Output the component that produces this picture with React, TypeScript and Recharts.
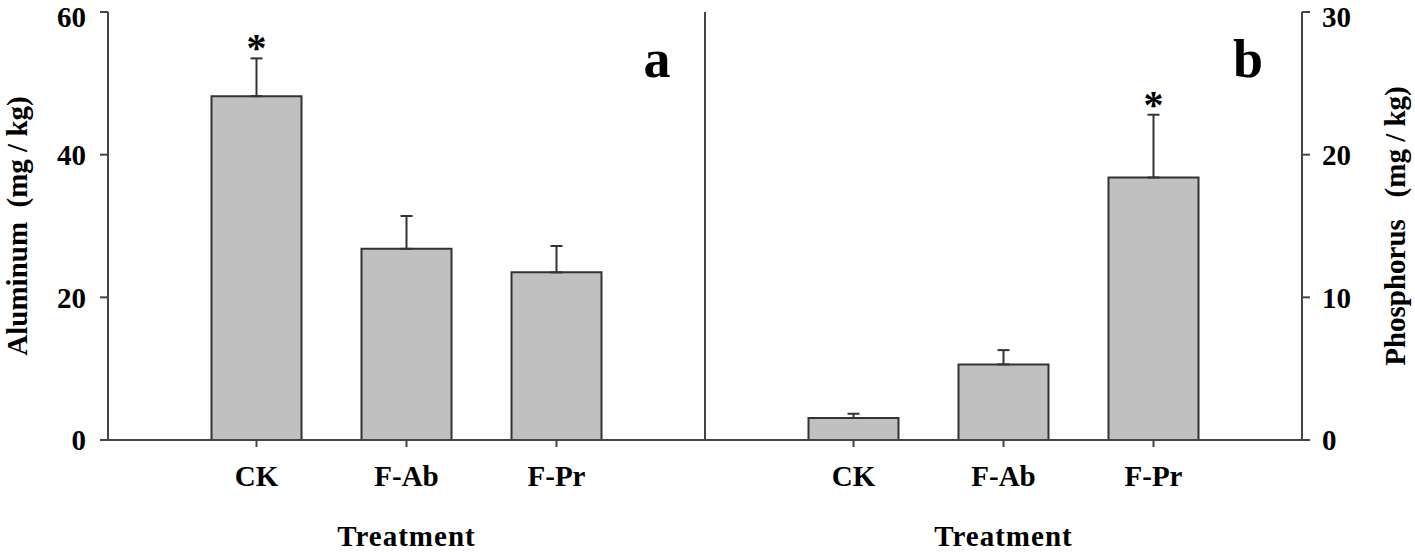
import React from 'react';
import { ComposedChart, Bar, Line, XAxis, YAxis, ErrorBar, LabelList } from 'recharts';

const treatments = ['CK', 'F-Ab', 'F-Pr'];

const aluminum = [48.2, 26.8, 23.5];
const aluminumErr = [5.3, 4.6, 3.7];
const aluminumSig = ['*', '', ''];
const aluminumTicks = [0, 20, 40, 60];

const phosphorus = [1.54, 5.3, 18.4];
const phosphorusErr = [0.3, 1.0, 4.4];
const phosphorusSig = ['', '', '*'];
const phosphorusTicks = [0, 10, 20, 30];

const serif = "'Liberation Serif', 'Times New Roman', serif";
const tickStyle = { fontSize: 29, fontWeight: 700, fontFamily: serif, fill: '#000' };
const labelStyle = { fontSize: 29, fontWeight: 700, fontFamily: serif, fill: '#000', textAnchor: 'middle' as const };
const axisStyle = { stroke: '#444', strokeWidth: 2 };

const build = (vals: number[], errs: number[]) =>
  treatments.map((name, i) => ({
    name,
    value: vals[i],
    err: [0, errs[i]],
    top: vals[i] + errs[i],
  }));

const alData = build(aluminum, aluminumErr);
const pData = build(phosphorus, phosphorusErr);

const star = (sig: string[]) => (props: any) => {
  const { x, y, index } = props;
  if (!sig[index]) return null;
  return (
    <text x={x} y={y + 3} textAnchor="middle" fontSize={40} fontWeight={700} fontFamily={serif} fill="#000">
      *
    </text>
  );
};

const xAxisProps = {
  dataKey: 'name',
  height: 112,
  padding: { left: 73.5, right: 73.5 },
  tickSize: 7,
  tickMargin: 18,
  axisLine: axisStyle,
  tickLine: axisStyle,
  tick: tickStyle,
  label: {
    value: 'Treatment',
    position: 'insideBottom' as const,
    offset: 6,
    style: { ...labelStyle, letterSpacing: 1 },
  },
};

export default function App() {
  return (
    <div style={{ position: 'absolute', left: 0, top: 0, width: 1415, height: 552, background: '#fff' }}>
      <div style={{ position: 'absolute', left: 0, top: 0 }}>
        <ComposedChart width={705} height={552} data={alData} margin={{ top: 12, right: 0, bottom: 0, left: 0 }}>
          <XAxis {...xAxisProps} />
          <YAxis
            width={108}
            domain={[0, 60]}
            ticks={aluminumTicks}
            allowDataOverflow
            tickSize={8}
            tickMargin={14}
            axisLine={axisStyle}
            tickLine={axisStyle}
            tick={tickStyle}
            label={{
              value: 'Aluminum\u00A0 (mg / kg)',
              angle: -90,
              position: 'insideLeft',
              offset: 17,
              style: labelStyle,
            }}
          />
          <Bar dataKey="value" barSize={90} fill="#c0c0c0" stroke="#333" strokeWidth={2} isAnimationActive={false}>
            <ErrorBar dataKey="err" width={6} stroke="#333" strokeWidth={2} direction="y" />
          </Bar>
          <Line dataKey="top" stroke="none" dot={false} activeDot={false} isAnimationActive={false}>
            <LabelList dataKey="top" content={star(aluminumSig)} />
          </Line>
        </ComposedChart>
      </div>
      <div style={{ position: 'absolute', left: 703, top: 0 }}>
        <ComposedChart width={712} height={552} data={pData} margin={{ top: 12, right: 0, bottom: 0, left: 0 }}>
          <XAxis {...xAxisProps} />
          <YAxis
            yAxisId="d"
            orientation="left"
            width={2}
            domain={[0, 30]}
            ticks={phosphorusTicks}
            tick={false}
            tickLine={false}
            axisLine={axisStyle}
          />
          <YAxis
            yAxisId="p"
            orientation="right"
            width={113}
            domain={[0, 30]}
            ticks={phosphorusTicks}
            allowDataOverflow
            tickSize={8}
            tickMargin={12}
            axisLine={axisStyle}
            tickLine={axisStyle}
            tick={tickStyle}
            label={{
              value: 'Phosphorus\u00A0\u00A0 (mg / kg)',
              angle: -90,
              position: 'insideRight',
              offset: 20,
              style: labelStyle,
            }}
          />
          <Bar yAxisId="p" dataKey="value" barSize={90} fill="#c0c0c0" stroke="#333" strokeWidth={2} isAnimationActive={false}>
            <ErrorBar dataKey="err" width={6} stroke="#333" strokeWidth={2} direction="y" />
          </Bar>
          <Line yAxisId="p" dataKey="top" stroke="none" dot={false} activeDot={false} isAnimationActive={false}>
            <LabelList dataKey="top" content={star(phosphorusSig)} />
          </Line>
        </ComposedChart>
      </div>
      <svg width={1415} height={552} style={{ position: 'absolute', left: 0, top: 0, pointerEvents: 'none' }}>
        <text x={657} y={77} textAnchor="middle" fontSize={54} fontWeight={700} fontFamily={serif} fill="#000">
          a
        </text>
        <text x={1248} y={77} textAnchor="middle" fontSize={54} fontWeight={700} fontFamily={serif} fill="#000">
          b
        </text>
      </svg>
    </div>
  );
}
